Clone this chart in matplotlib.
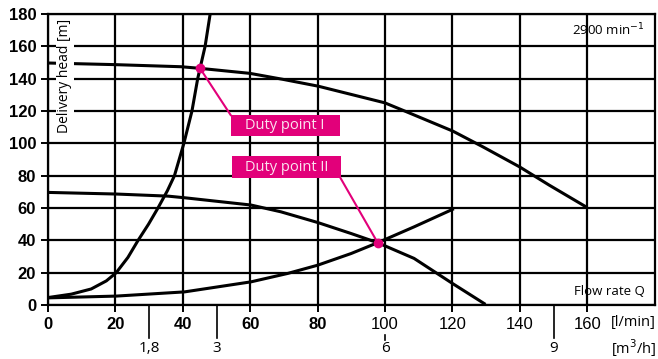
import matplotlib
matplotlib.use("Agg")
import matplotlib.pyplot as plt
from matplotlib.patches import Rectangle

# pump curve at 2900 1/min (Q in l/min, H in m)
pump_hi_q = [0, 19.8, 39.5, 45.1, 59.9, 69.7, 80.1, 99.9, 106.3, 120.1, 129, 139.9, 148.7, 159.6]
pump_hi_h = [149.7, 148.7, 147.4, 146.4, 143.3, 139.6, 135.4, 125.1, 119.6, 107.6, 97.9, 85.5, 74.2, 60.8]
# second pump curve
pump_lo_q = [0, 20.2, 35.6, 40.5, 60.2, 69.1, 80, 89.9, 97.8, 108.6, 120, 129.4]
pump_lo_h = [69.7, 68.7, 67.4, 66.4, 61.9, 57.7, 51.1, 44.3, 38.6, 28.9, 13.4, 1.0]
# steep system curve
sys_steep_q = [0, 6.9, 12.8, 17.3, 20.2, 23.7, 26.7, 29.8, 32.6, 35.4, 37.5, 40.3, 42.7, 44.4, 45.1, 46.6, 48.1]
sys_steep_h = [4.7, 6.8, 10, 15, 20, 29.5, 40, 50, 60, 70.7, 80, 100, 120, 140, 146.4, 160, 180]
# flat system curve
sys_flat_q = [0, 20.2, 40.5, 60.2, 71.1, 80, 89.9, 97.8, 108.6, 120]
sys_flat_h = [4.5, 5.6, 8.2, 14.4, 19.6, 24.7, 31.9, 38.6, 48.4, 59.2]
# duty points
duty_q = [45.1, 97.8]
duty_h = [146.4, 38.6]
duty_names = ["Duty point I", "Duty point II"]

x_ticks = [0, 20, 40, 60, 80, 100, 120, 140, 160]
y_ticks = [0, 20, 40, 60, 80, 100, 120, 140, 160, 180]
m3h_ticks = [1.8, 3, 6, 9]
m3h_labels = ["1,8", "3", "6", "9"]

magenta = "#E2007A"

fig = plt.figure(figsize=(6.58, 3.59), dpi=100)
ax = fig.add_axes([0.073, 0.150, 0.922, 0.811])
ax.set_xlim(0, 180)
ax.set_ylim(0, 180)

ax.set_xticks(x_ticks)
ax.set_yticks(y_ticks)
ax.grid(True, color="black", linewidth=1.6)
ax.set_axisbelow(True)
for s in ax.spines.values():
    s.set_linewidth(1.6)
ax.tick_params(direction="out", length=5, width=1.4, colors="black")
ax.set_yticklabels([str(v) for v in y_ticks], fontsize=12,
                   fontweight="bold", family="Liberation Sans")
ax.set_xticklabels([str(v) for v in x_ticks], fontsize=12,
                   family="Liberation Sans")
for lab, v in zip(ax.get_xticklabels(), x_ticks):
    if v < 100:
        lab.set_fontweight("bold")

# curves
lw = 2.2
ax.plot(pump_hi_q, pump_hi_h, color="black", lw=lw, zorder=3)
ax.plot(pump_lo_q, pump_lo_h, color="black", lw=lw, zorder=3)
ax.plot(sys_steep_q, sys_steep_h, color="black", lw=lw, zorder=3)
ax.plot(sys_flat_q, sys_flat_h, color="black", lw=lw, zorder=3)

# duty point labels
boxes = [(54.2, 104.5, 32.3, 13.0), (54.6, 78.5, 32.2, 13.7)]
anchors = [(54.2, 117.5), (86.8, 78.5)]
for q, h, name, (bx, by, bw, bh), (lx, ly) in zip(duty_q, duty_h, duty_names, boxes, anchors):
    ax.plot([q, lx], [h, ly], color=magenta, lw=1.5, zorder=4)
    ax.add_patch(Rectangle((bx, by), bw, bh, facecolor=magenta,
                           edgecolor="none", zorder=5))
    ax.text(bx + bw / 2, by + bh / 2, name, color="#FBE3EF", fontsize=10.5,
            ha="center", va="center", family="Open Sans", zorder=6)
ax.plot(duty_q, duty_h, "o", color=magenta, ms=6, zorder=6)

# annotations
ax.text(5, 142, "Delivery head [m]", rotation=90, ha="center", va="center",
        fontsize=10, family="Open Sans", zorder=4,
        bbox=dict(facecolor="white", edgecolor="none", pad=1))
ax.text(177, 170, "2900 min$^{-1}$", ha="right", va="center", fontsize=9.5,
        family="Open Sans", zorder=4)
ax.text(177, 8.5, "Flow rate Q", ha="right", va="center", fontsize=9.5,
        family="Open Sans", zorder=4)

# second axis row in m3/h below the l/min labels
tr = ax.get_xaxis_transform()
fig.text(0.997, 0.101, "[l/min]", ha="right", va="center", fontsize=10.5,
         family="Open Sans")
fig.text(0.997, 0.031, "[m$^3$/h]", ha="right", va="center", fontsize=10.5,
         family="Open Sans")
for v, lab in zip(m3h_ticks, m3h_labels):
    q = v * 1000 / 60
    if q == 100:
        ax.plot([q, q], [-0.102, -0.118], transform=tr, color="black",
                lw=1.2, clip_on=False)
    else:
        ax.plot([q, q], [0, -0.112], transform=tr, color="black",
                lw=1.2, clip_on=False)
    ax.text(q, -0.148, lab, transform=tr, ha="center", va="center",
            fontsize=11, family="Open Sans")

fig.savefig("out.png", dpi=100)
